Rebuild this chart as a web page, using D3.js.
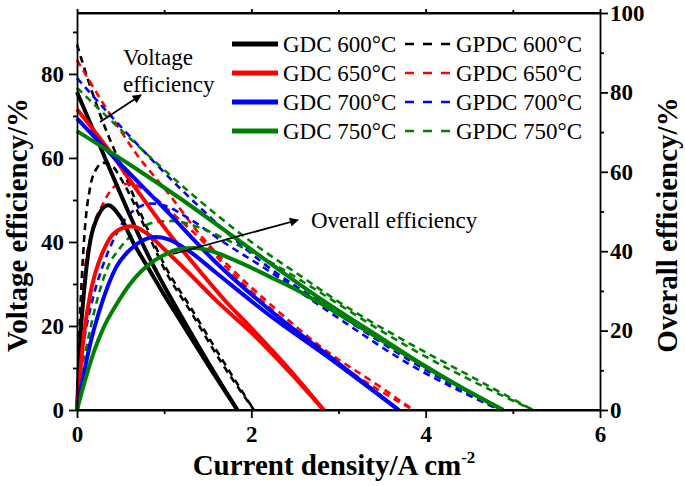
<!DOCTYPE html>
<html><head><meta charset="utf-8">
<script src="https://cdn.jsdelivr.net/npm/d3@7"></script>
<style>body{margin:0;background:#fff}</style>
</head><body>
<svg id="c" width="685" height="486"></svg>
<script>
// ---- tick values ----
const xTicks = [0, 2, 4, 6];
const xMinor = [1, 3, 5];
const leftTicks = [0, 20, 40, 60, 80];
const leftMinor = [10, 30, 50, 70, 90];
const rightTicks = [0, 20, 40, 60, 80, 100];
const rightMinor = [10, 30, 50, 70, 90];

// ---- series ----
const seriesNames = ["GDC 600°C", "GDC 650°C", "GDC 700°C", "GDC 750°C",
                     "GPDC 600°C", "GPDC 650°C", "GPDC 700°C", "GPDC 750°C"];
const seriesColors = ["#000000", "#ff0000", "#0000ff", "#008000"];

// Voltage efficiency (left axis) : [current density A/cm2, %]
const gdc600Voltage = [[0,75.7],[0.28,62],[0.55,49],[0.8,37.5],[1.0,29.5],[1.2,22.2],[1.5,11.5],[1.84,0]];
const gdc650Voltage = [[0,71.6],[0.36,62],[0.7,52],[1.0,43.5],[1.35,34.5],[1.7,26],[2.0,19.5],[2.4,10.5],[2.83,0]];
const gdc700Voltage = [[0,69.4],[0.5,58.5],[1.0,48],[1.6,35],[2.2,24],[2.9,12.7],[3.69,0]];
const gdc750Voltage = [[0,66.4],[0.6,58.5],[1.18,50.4],[1.8,41.2],[2.48,31],[2.9,25],[3.5,17],[3.89,11.8],[4.4,5.5],[4.89,0]];
const gpdc600Voltage = [[0,87],[0.12,79],[0.28,69.5],[0.55,56],[0.8,43.5],[1.03,33.5],[1.3,24.5],[1.65,12.5],[2.03,0]];
const gpdc650Voltage = [[0,83.3],[0.3,73],[0.68,61],[1.07,51],[1.4,42],[1.755,34],[2.2,25.5],[2.8,15],[3.48,5.5],[3.86,0]];
const gpdc700Voltage = [[0,79],[0.5,67.5],[1.26,51.2],[2.14,34.9],[2.9,24.2],[3.8,12],[4.85,0]];
const gpdc750Voltage = [[0,76.7],[0.6,64.8],[1.26,52.4],[2.0,40],[2.63,31],[2.94,26.6],[3.8,16],[4.5,8.2],[5.23,0]];

// Overall efficiency (right axis) : [current density A/cm2, %]
const gdc600Overall = [[0,0],[0.03,15],[0.09,32],[0.19,46],[0.36,51.6],[0.5,48.5],[0.65,42],[0.83,35.3],[1.0,29],[1.2,22],[1.5,11.5],[1.84,0]];
const gdc650Overall = [[0,0],[0.03,8],[0.08,19],[0.15,29],[0.21,34.5],[0.3,40],[0.45,45],[0.63,46.3],[0.8,44.5],[1.0,40.5],[1.26,35],[1.6,27.5],[2.0,19.5],[2.4,10.5],[2.83,0]];
const gdc700Overall = [[0,0],[0.05,6],[0.1,11.5],[0.15,16.5],[0.25,24.5],[0.35,31],[0.45,36],[0.6,40.2],[0.75,42.7],[0.9,43.6],[1.05,43],[1.3,39.8],[1.6,34.5],[2.2,24],[2.9,13],[3.69,0]];
const gdc750Overall = [[0,0],[0.1,8],[0.2,15],[0.3,20.5],[0.45,26.5],[0.6,31.5],[0.74,35],[0.9,37.8],[1.05,39.6],[1.2,40.6],[1.35,40.8],[1.5,40.3],[1.8,37.8],[2.21,33.6],[2.5,30.5],[2.9,25.5],[3.5,17.5],[3.89,12.3],[4.4,5.8],[4.89,0]];
const gpdc600Overall = [[0,0],[0.02,15],[0.054,32.7],[0.092,46],[0.15,56],[0.23,61],[0.3,62.3],[0.4,61.5],[0.55,56.5],[0.8,45],[1.03,34.4],[1.3,24.9],[1.65,12.2],[2.03,0]];
const gpdc650Overall = [[0,0],[0.02,10],[0.05,22],[0.09,35],[0.15,43],[0.3,52],[0.45,56.5],[0.6,57],[0.8,55],[1.07,50],[1.4,43.4],[1.755,35],[2.2,26],[2.8,14.9],[3.48,4.8],[3.86,0]];
const gpdc700Overall = [[0,0],[0.03,10],[0.1,20],[0.18,28],[0.28,35.3],[0.4,42],[0.55,48],[0.7,51],[0.85,52],[1.0,51.5],[1.3,48],[1.7,42],[2.14,35.9],[2.9,24.6],[3.8,11.7],[4.85,0]];
const gpdc750Overall = [[0,0],[0.03,7],[0.11,16],[0.2,25],[0.34,35.3],[0.5,41],[0.7,45.3],[0.9,47.3],[1.1,47.6],[1.4,46],[1.8,42],[2.2,37.5],[2.63,31.8],[3.3,22.5],[3.8,15.9],[4.5,7.7],[5.23,0]];

const voltageSeries = [gdc600Voltage, gdc650Voltage, gdc700Voltage, gdc750Voltage,
                       gpdc600Voltage, gpdc650Voltage, gpdc700Voltage, gpdc750Voltage];
const overallSeries = [gdc600Overall, gdc650Overall, gdc700Overall, gdc750Overall,
                       gpdc600Overall, gpdc650Overall, gpdc700Overall, gpdc750Overall];

// ---- layout ----
const L = 77, R = 600, T = 13, B = 410;
const serif = "'Liberation Serif','Times New Roman',Times,serif";

const svg = d3.select("#c");
const x = d3.scaleLinear().domain([0, 6]).range([L, R]);
const yL = d3.scaleLinear().domain([0, 94.5]).range([B, T]);
const yR = d3.scaleLinear().domain([0, 100]).range([B, T]);

// ---- curves ----
const gLines = svg.append("g");
function drawSeries(data, yScale, i) {
  const dashed = i >= 4;
  const line = d3.line().x(d => x(d[0])).y(d => yScale(d[1])).curve(d3.curveMonotoneX);
  gLines.append("path").attr("d", line(data))
    .attr("fill", "none")
    .attr("stroke", seriesColors[i % 4])
    .attr("stroke-width", dashed ? 2.6 : 4)
    .attr("stroke-dasharray", dashed ? "7,5" : null)
    .attr("stroke-linejoin", "round");
}
[4,5,6,7,0,1,2,3].forEach(i => {
  drawSeries(voltageSeries[i], yL, i);
  drawSeries(overallSeries[i], yR, i);
});

// ---- axes ----
function styleAxis(g, fs) {
  g.select(".domain").attr("stroke", "#000").attr("stroke-width", 1.8);
  g.selectAll(".tick line").attr("stroke", "#000").attr("stroke-width", 1.8);
  g.selectAll(".tick text").attr("font-family", serif).attr("font-weight", "bold")
    .attr("font-size", fs).attr("fill", "#000");
}
const fsTick = 23;
const gb = svg.append("g").attr("transform", `translate(0,${B})`)
  .call(d3.axisBottom(x).tickValues(xTicks).tickSize(8).tickSizeOuter(0).tickPadding(8).tickFormat(d3.format("d")));
styleAxis(gb, fsTick);
svg.append("g").attr("transform", `translate(0,${B})`)
  .call(d3.axisBottom(x).tickValues(xMinor).tickSize(4).tickSizeOuter(0).tickFormat(""))
  .call(g => { g.select(".domain").remove(); g.selectAll("line").attr("stroke-width", 1.8); });
const gt = svg.append("g").attr("transform", `translate(0,${T})`)
  .call(d3.axisTop(x).tickValues(xTicks).tickSize(4).tickSizeOuter(0).tickFormat(""));
styleAxis(gt, fsTick);
svg.append("g").attr("transform", `translate(0,${T})`)
  .call(d3.axisTop(x).tickValues(xMinor).tickSize(3).tickSizeOuter(0).tickFormat(""))
  .call(g => { g.select(".domain").remove(); g.selectAll("line").attr("stroke-width", 1.8); });
const gl = svg.append("g").attr("transform", `translate(${L},0)`)
  .call(d3.axisLeft(yL).tickValues(leftTicks).tickSize(8).tickSizeOuter(0).tickPadding(5).tickFormat(d3.format("d")));
styleAxis(gl, fsTick);
svg.append("g").attr("transform", `translate(${L},0)`)
  .call(d3.axisLeft(yL).tickValues(leftMinor).tickSize(4).tickSizeOuter(0).tickFormat(""))
  .call(g => { g.select(".domain").remove(); g.selectAll("line").attr("stroke-width", 1.8); });
const gr = svg.append("g").attr("transform", `translate(${R},0)`)
  .call(d3.axisRight(yR).tickValues(rightTicks).tickSize(8).tickSizeOuter(0).tickPadding(2).tickFormat(d3.format("d")));
styleAxis(gr, fsTick);
svg.append("g").attr("transform", `translate(${R},0)`)
  .call(d3.axisRight(yR).tickValues(rightMinor).tickSize(4).tickSizeOuter(0).tickFormat(""))
  .call(g => { g.select(".domain").remove(); g.selectAll("line").attr("stroke-width", 1.8); });
svg.append("line").attr("x1", L).attr("x2", R).attr("y1", T).attr("y2", T).attr("stroke", "#000").attr("stroke-width", 1.8);
svg.append("line").attr("x1", L).attr("x2", R).attr("y1", B).attr("y2", B).attr("stroke", "#000").attr("stroke-width", 1.8);

// ---- axis titles ----
svg.append("text").attr("transform", "translate(27,225) rotate(-90)")
  .attr("text-anchor", "middle").attr("font-family", serif).attr("font-weight", "bold")
  .attr("font-size", 29).text("Voltage efficiency/%");
svg.append("text").attr("transform", "translate(677,225) rotate(-90)")
  .attr("text-anchor", "middle").attr("font-family", serif).attr("font-weight", "bold")
  .attr("font-size", 29).text("Overall efficiency/%");
const xt = svg.append("text").attr("x", 334).attr("y", 475)
  .attr("text-anchor", "middle").attr("font-family", serif).attr("font-weight", "bold")
  .attr("font-size", 29);
xt.append("tspan").text("Current density/A cm");
xt.append("tspan").attr("font-size", 17).attr("dy", -12).text("-2");

// ---- legend ----
const legRows = [44, 73, 102, 131];
const leg = svg.append("g");
seriesNames.forEach((name, i) => {
  const col = i < 4 ? 0 : 1;
  const row = i % 4;
  const x0 = col === 0 ? 232 : 405;
  const y0 = legRows[row];
  leg.append("line").attr("x1", x0).attr("x2", x0 + 46).attr("y1", y0).attr("y2", y0)
    .attr("stroke", seriesColors[row]).attr("stroke-width", col === 0 ? 5 : 2.6)
    .attr("stroke-dasharray", col === 0 ? null : "9,9");
  leg.append("text").attr("x", x0 + 51).attr("y", y0 + 8)
    .attr("font-family", serif).attr("font-size", 23).attr("fill", "#000").text(name);
});

// ---- annotations ----
const defs = svg.append("defs");
defs.append("marker").attr("id", "ah").attr("viewBox", "0 0 10 10").attr("refX", 9).attr("refY", 5)
  .attr("markerWidth", 12).attr("markerHeight", 9).attr("markerUnits", "userSpaceOnUse")
  .attr("orient", "auto")
  .append("path").attr("d", "M0,0 L10,5 L0,10 Z").attr("fill", "#000");

svg.append("line").attr("x1", 100).attr("y1", 122).attr("x2", 141).attr("y2", 95)
  .attr("stroke", "#000").attr("stroke-width", 1.8).attr("marker-end", "url(#ah)");
svg.append("line").attr("x1", 173).attr("y1", 254).attr("x2", 298).attr("y2", 220)
  .attr("stroke", "#000").attr("stroke-width", 1.8).attr("marker-end", "url(#ah)");

svg.append("text").attr("x", 123).attr("y", 65).attr("font-family", serif).attr("font-size", 23).text("Voltage");
svg.append("text").attr("x", 123).attr("y", 92).attr("font-family", serif).attr("font-size", 23).text("efficiency");
svg.append("text").attr("x", 311).attr("y", 228).attr("font-family", serif).attr("font-size", 23).text("Overall efficiency");
</script>
</body></html>
